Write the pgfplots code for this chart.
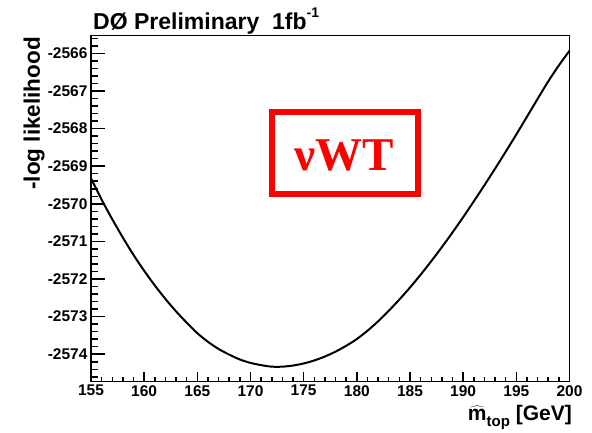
\documentclass[border=0pt]{standalone}
\usepackage{pgfplots}
\pgfplotsset{compat=1.18}
\usepackage{fontspec}
\setmainfont{Liberation Sans}
\newfontfamily\timesfont{Liberation Serif}
\pgfplotstableread{
m nll
155 -2569.32
156 -2569.89
157 -2570.41
158 -2570.90
159 -2571.36
160 -2571.78
161 -2572.17
162 -2572.53
163 -2572.86
164 -2573.16
165 -2573.44
166 -2573.67
167 -2573.86
168 -2574.01
169 -2574.14
170 -2574.23
171 -2574.29
172 -2574.33
173 -2574.33
174 -2574.30
175 -2574.245
176 -2574.165
177 -2574.06
178 -2573.93
179 -2573.775
180 -2573.595
181 -2573.375
182 -2573.125
183 -2572.845
184 -2572.545
185 -2572.225
186 -2571.885
187 -2571.525
188 -2571.15
189 -2570.76
190 -2570.355
191 -2569.935
192 -2569.505
193 -2569.065
194 -2568.615
195 -2568.155
196 -2567.685
197 -2567.21
198 -2566.745
199 -2566.32
200 -2565.93
}\nlltable
\pgfplotsset{
  framecommon/.style={
    scale only axis, width=478.5pt, height=346pt,
    xmin=155, xmax=200, ymin=-2574.73, ymax=-2565.53,
    axis line style={line width=1.5pt},
    tick align=inside, xtick pos=bottom, ytick pos=left,
    tick style={line width=1.4pt, black},
    scaled ticks=false,
    clip=false,
    /pgf/number format/assume math mode=true,
    /pgf/number format/1000 sep={},
    ticklabel style={font=\bfseries\fontsize{15.5}{17}\selectfont},
  },
}
\begin{document}
\begin{tikzpicture}
% x ticks (shorter) and the curve
\begin{axis}[
  framecommon,
  ytick=\empty,
  xtick={155,160,...,200}, minor x tick num=4,
  major tick length=9.5pt, minor tick length=5pt,
]
\addplot[line width=2pt, smooth, black] table[x=m, y=nll] {\nlltable};
\end{axis}
% y ticks (longer)
\begin{axis}[
  framecommon,
  xtick=\empty,
  ytick={-2574,-2573,...,-2566}, minor y tick num=4,
  major tick length=14pt, minor tick length=7pt,
]
% tick marks as thin filled bars, so that they show at full length
\pgfplotsinvokeforeach{-2574,-2573,...,-2566}{\fill[black] (axis cs:155,#1) ++(0pt,-0.75pt) rectangle ++(14pt,1.5pt);}
\pgfplotsinvokeforeach{-2574.6,-2574.4,-2574.2,-2573.8,-2573.6,-2573.4,-2573.2,-2572.8,-2572.6,-2572.4,-2572.2,-2571.8,-2571.6,-2571.4,-2571.2,-2570.8,-2570.6,-2570.4,-2570.2,-2569.8,-2569.6,-2569.4,-2569.2,-2568.8,-2568.6,-2568.4,-2568.2,-2567.8,-2567.6,-2567.4,-2567.2,-2566.8,-2566.6,-2566.4,-2566.2,-2565.8,-2565.6}{\fill[black] (axis cs:155,#1) ++(0pt,-0.75pt) rectangle ++(7pt,1.5pt);}
\pgfplotsinvokeforeach{155,160,...,200}{\fill[black] (axis cs:#1,-2574.73) ++(-0.75pt,0pt) rectangle ++(1.5pt,9.5pt);}
\pgfplotsinvokeforeach{156,157,158,159,161,162,163,164,166,167,168,169,171,172,173,174,176,177,178,179,181,182,183,184,186,187,188,189,191,192,193,194,196,197,198,199}{\fill[black] (axis cs:#1,-2574.73) ++(-0.75pt,0pt) rectangle ++(1.5pt,5pt);}
\end{axis}
\node[anchor=base west, inner sep=0, font=\bfseries\fontsize{23}{27}\selectfont] at (2pt,352.4pt) {DØ Preliminary\ \ 1fb\raisebox{0.5em}{\fontsize{14}{14}\selectfont -1}};
\node[rotate=90, anchor=base east, inner sep=0, font=\bfseries\fontsize{22.5}{26}\selectfont] at (-51pt,344.7pt) {-log likelihood};
\node[anchor=base east, inner sep=0, font=\bfseries\fontsize{21}{24}\selectfont] at (481pt,-38.5pt) {$\widehat{\hbox{\bfseries\fontsize{21}{24}\selectfont m}}$\raisebox{-0.3em}{\fontsize{15}{17}\selectfont top} [GeV]};
\node[draw=red, line width=6pt, minimum width=145.7pt, minimum height=82.3pt, inner sep=0] at (254.2pt,228.55pt) {};
\node[anchor=base, inner sep=0, text=red, font=\timesfont\bfseries\fontsize{47}{50}\selectfont] at (253pt,210.7pt) {νWT};
\path[use as bounding box] (-91pt,-51.3pt) rectangle (501pt,381.7pt);
\end{tikzpicture}
\end{document}
